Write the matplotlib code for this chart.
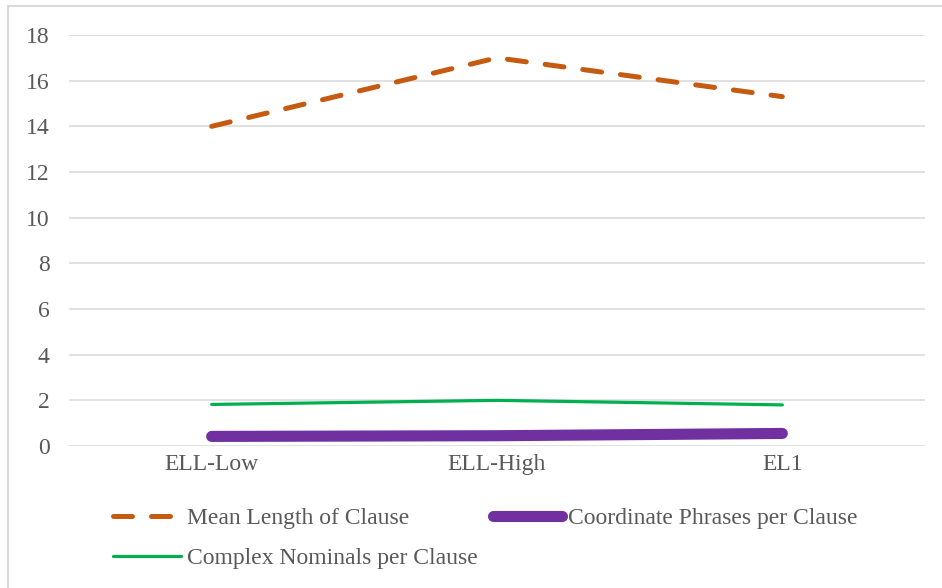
import matplotlib
matplotlib.use("Agg")
import matplotlib.pyplot as plt
from matplotlib.patches import Rectangle

# data
groups = ["ELL-Low", "ELL-High", "EL1"]
mean_length_clause = [14.0, 17.0, 15.3]
coord_phrases_clause = [0.42, 0.45, 0.55]
complex_nominals_clause = [1.82, 2.0, 1.8]
y_ticks = [0, 2, 4, 6, 8, 10, 12, 14, 16, 18]

W, H = 942, 588
plt.rcParams['font.family'] = ['Liberation Serif', 'DejaVu Serif']
text_color = '#595959'
grid_color = '#D9D9D9'

fig = plt.figure(figsize=(W / 100, H / 100), dpi=100)
ax = fig.add_axes([69 / W, (H - 446) / H, (925 - 69) / W, (446 - 35) / H])

x = range(len(groups))
l1, = ax.plot(x, mean_length_clause, color='#C55A11', lw=3.6,
              dashes=(3.8, 3.8), dash_capstyle='round',
              label='Mean Length of Clause', zorder=3)
l2, = ax.plot(x, coord_phrases_clause, color='#7030A0', lw=8,
              solid_capstyle='round', label='Coordinate Phrases per Clause', zorder=3)
l3, = ax.plot(x, complex_nominals_clause, color='#00B050', lw=2.3,
              solid_capstyle='round', label='Complex Nominals per Clause', zorder=3)

ax.set_xlim(-0.5, 2.5)
ax.set_ylim(0, 18)
ax.set_yticks(y_ticks)
ax.set_xticks(list(x))
ax.set_xticklabels(groups)
ax.grid(axis='y', color=grid_color, lw=1.1)
ax.set_axisbelow(True)
for s in ax.spines.values():
    s.set_visible(False)
ax.tick_params(axis='both', length=0, labelsize=17, colors=text_color)
ax.tick_params(axis='y', pad=14)
ax.tick_params(axis='x', pad=6)

# legend: two entries on the first row, one on the second
fig.legend([l1, l3, l2], [l1.get_label(), l3.get_label(), l2.get_label()],
           loc='upper left', bbox_to_anchor=(101 / W, (H - 496) / H),
           ncol=2, frameon=False, fontsize=17, labelcolor=text_color,
           handlelength=2.9, handletextpad=0.25, columnspacing=0.65,
           borderpad=0, labelspacing=0.77)

# outer chart frame
fig.patches.append(Rectangle((8 / W, -0.05), 1.1, (H - 6) / H + 0.05,
                             transform=fig.transFigure, fill=False,
                             edgecolor=grid_color, lw=1.5))

fig.savefig('out.png', dpi=100)
